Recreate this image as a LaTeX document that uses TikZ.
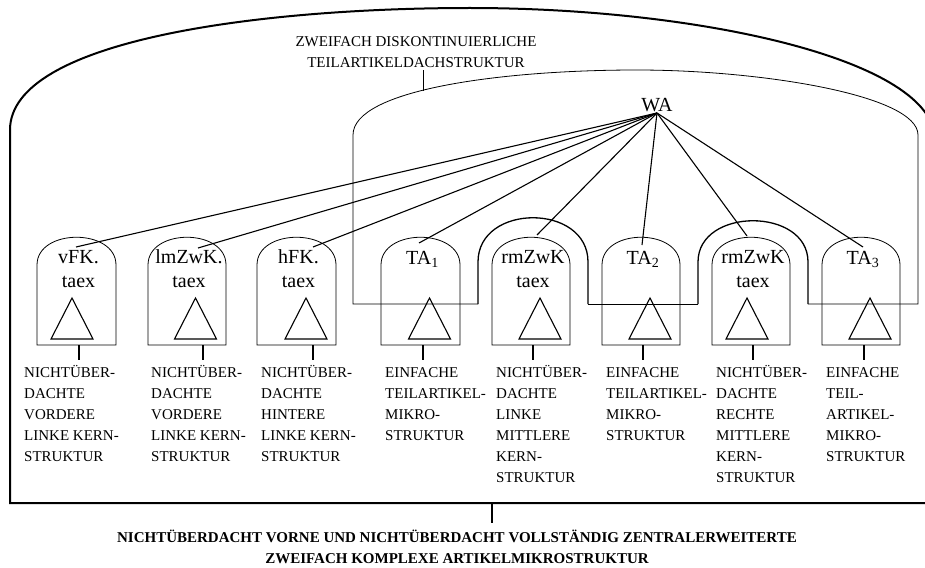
\documentclass[tikz,border=0pt]{standalone}
\usepackage{fontspec}
\setmainfont{Liberation Serif}

\tikzset{
  frame/.style={line width=2pt},
  roofline/.style={line width=0.8pt},
  bump/.style={line width=1.3pt},
  dome/.style={line width=0.8pt},
  fan/.style={line width=1.1pt},
  boxtext/.style={font=\fontsize{20}{24}\selectfont, align=center, inner sep=0pt, anchor=base},
  lbl/.style={font=\fontsize{15}{21}\selectfont, align=left, anchor=base west, inner sep=0pt},
}

\begin{document}
\begin{tikzpicture}[x=1pt, y=-1pt]

		\useasboundingbox (0,0) rectangle (925,567);
		\clip (0,0) rectangle (925,567);

		% aeussere Struktur
		\draw[frame] (10,503) -- (10,130) .. controls (10,40) and (260,8) .. (470,8)
			.. controls (700,8) and (935,60) .. (935,140) -- (980,140) -- (980,503) -- cycle;
		\draw[frame] (492,503) -- (492,523);
		\node[font=\fontsize{15}{21}\selectfont\bfseries, align=center, anchor=base, inner sep=0pt] (title) at (457,563)
			{NICHTÜBERDACHT VORNE UND NICHTÜBERDACHT VOLLSTÄNDIG ZENTRALERWEITERTE\\ZWEIFACH KOMPLEXE ARTIKELMIKROSTRUKTUR};

		% Dachstruktur
		\draw[roofline] (478,304) -- (353,304) -- (353,135) .. controls (353,90) and (500,70) .. (637,70)
			.. controls (760,70) and (918,95) .. (918,135) -- (918,304) -- (808,304);
		\draw[roofline] (588,304) -- (698,304);
		\draw[bump] (478,304) -- (478,262) .. controls (478,203) and (588,203) .. (588,262) -- (588,304);
		\draw[bump] (698,304) -- (698,262) .. controls (698,207) and (808,207) .. (808,262) -- (808,304);
		\node[font=\fontsize{15}{21}\selectfont, align=center, anchor=base, inner sep=0pt] (roof) at (416,68)
			{ZWEIFACH DISKONTINUIERLICHE\\TEILARTIKELDACHSTRUKTUR};
		\draw[roofline] (423,91) -- (423,70);

		\node[font=\fontsize{20}{24}\selectfont, anchor=base, inner sep=1.5pt] (wa) at (657,111) {WA};

		% Teilstrukturen
		\foreach[count=\i] \xa/\xb/\xt/\xk/\yb in {
				37/116/72/79/287,
				148/226/195.5/203/287,
				257/336/306/313/287,
				381/460/429.5/423/264,
				492/570/540/533/287,
				602/680/650/643/264,
				712/790/747/753/287,
				822/900/870/864/264
			} {
				\draw[dome] (\xa,345) -- (\xa,265) .. controls (\xa,228) and (\xb,228) .. (\xb,265) -- (\xb,345) -- cycle;
				\draw[fan] (\xt,298) -- (\xt+21,339) -- (\xt-21,339) -- cycle;
				\draw[fan] (\xk,345) -- (\xk,360);
				\coordinate (C\i) at ({(\xa+\xb)/2+2},\yb);
			}

		\foreach[count=\i] \txt in {{vFK.\\taex}, {lmZwK.\\taex}, {hFK.\\taex}, {TA\textsubscript{1}},
				{rmZwK\\taex}, {TA\textsubscript{2}}, {rmZwK\\taex}, {TA\textsubscript{3}}} {
				\node[boxtext] (B\i) at (C\i) {\txt};
			}

		\node[lbl] (L1) at (24,461) {NICHTÜBER-\\DACHTE\\VORDERE\\LINKE KERN-\\STRUKTUR};
		\node[lbl] (L2) at (151,461) {NICHTÜBER-\\DACHTE\\VORDERE\\LINKE KERN-\\STRUKTUR};
		\node[lbl] (L3) at (261,461) {NICHTÜBER-\\DACHTE\\HINTERE\\LINKE KERN-\\STRUKTUR};
		\node[lbl] (L4) at (385,440) {EINFACHE\\TEILARTIKEL-\\MIKRO-\\STRUKTUR};
		\node[lbl] (L5) at (496,482) {NICHTÜBER-\\DACHTE\\LINKE\\MITTLERE\\KERN-\\STRUKTUR};
		\node[lbl] (L6) at (606,440) {EINFACHE\\TEILARTIKEL-\\MIKRO-\\STRUKTUR};
		\node[lbl] (L7) at (716,482) {NICHTÜBER-\\DACHTE\\RECHTE\\MITTLERE\\KERN-\\STRUKTUR};
		\node[lbl] (L8) at (826,461) {EINFACHE\\TEIL-\\ARTIKEL-\\MIKRO-\\STRUKTUR};

		% Verbindungen zu WA
		\foreach[count=\i] \x/\y in {76/247, 198/248, 313/247, 419/243, 537/235, 642/245, 747/236, 863/247} {
				\coordinate (T\i) at (\x,\y);
				\draw[fan] (wa.south) -- (T\i);
			}

	\end{tikzpicture}
\end{document}
